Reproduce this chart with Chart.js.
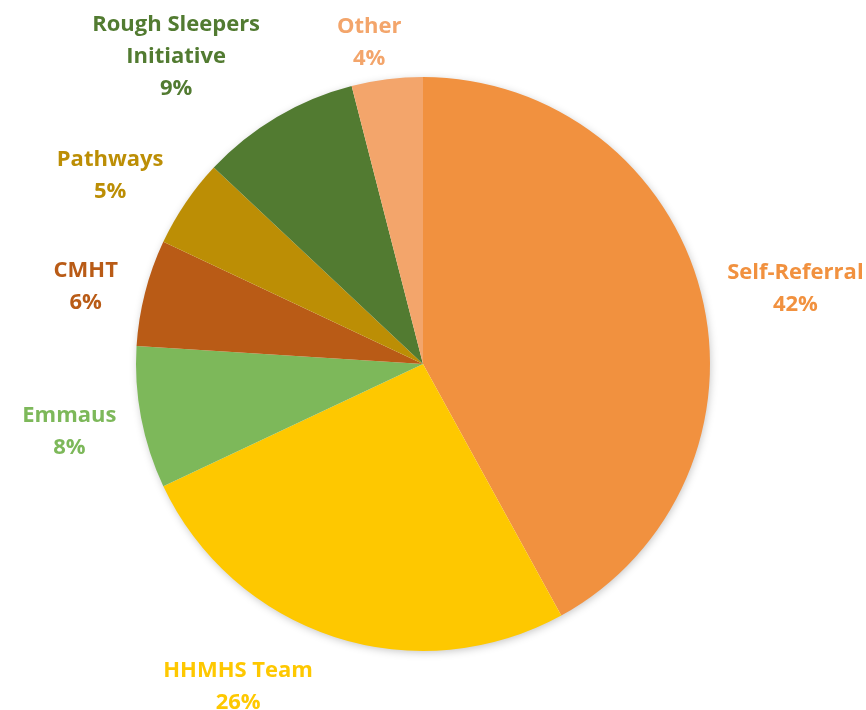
<!DOCTYPE html>
<html lang="en">
<head>
    <meta charset="UTF-8">
    <title>Referral Sources</title>
    <script src="https://cdn.jsdelivr.net/npm/chart.js"></script>
    <style>
        html, body {
            margin: 0;
            padding: 0;
            background: #ffffff;
        }
        #chart {
            display: block;
        }
    </style>
</head>
<body>
    <canvas id="chart" width="866" height="710"></canvas>

    <script>
        // Data
        const categories = ['Self-Referral', 'HHMHS Team', 'Emmaus', 'CMHT', 'Pathways', 'Rough Sleepers Initiative', 'Other'];
        const labelLines = [['Self-Referral'], ['HHMHS Team'], ['Emmaus'], ['CMHT'], ['Pathways'], ['Rough Sleepers', 'Initiative'], ['Other']];
        const shares = [42, 26, 8, 6, 5, 9, 4];

        const sliceColors = ['#F1913F', '#FEC800', '#7DB85A', '#B95B16', '#BC8E05', '#527B31', '#F3A56B'];

        // label placement, relative to each slice: angle shift (deg) and distance past the rim (px)
        const labelShift = [2.9, 11.8, 0, -1.5, -3.2, -8.2, -2.3];
        const labelGap = [93, 85, 73, 59, 78, 107, 39];

        const rimShadow = {
            id: 'rimShadow',
            beforeDatasetsDraw(chart) {
                const arc = chart.getDatasetMeta(0).data[0];
                if (!arc) return;
                const ctx = chart.ctx;
                ctx.save();
                ctx.shadowColor = 'rgba(0,0,0,0.25)';
                ctx.shadowBlur = 8;
                ctx.shadowOffsetX = 1;
                ctx.shadowOffsetY = 2;
                ctx.fillStyle = '#ffffff';
                ctx.beginPath();
                ctx.arc(arc.x, arc.y, arc.outerRadius - 1, 0, Math.PI * 2);
                ctx.fill();
                ctx.restore();
            }
        };

        const outsideLabels = {
            id: 'outsideLabels',
            afterDatasetsDraw(chart) {
                const ctx = chart.ctx;
                const meta = chart.getDatasetMeta(0);
                const lineH = 32;
                ctx.save();
                ctx.font = 'bold 22px "Open Sans", Lato, sans-serif';
                ctx.textAlign = 'center';
                ctx.textBaseline = 'middle';
                meta.data.forEach((arc, i) => {
                    const mid = (arc.startAngle + arc.endAngle) / 2 + labelShift[i] * Math.PI / 180;
                    const r = arc.outerRadius + labelGap[i];
                    const cx = arc.x + Math.cos(mid) * r;
                    const cy = arc.y + Math.sin(mid) * r;
                    const lines = labelLines[i].concat([shares[i] + '%']);
                    const top = cy - (lines.length - 1) * lineH / 2;
                    ctx.fillStyle = sliceColors[i];
                    lines.forEach((t, j) => ctx.fillText(t, cx, top + j * lineH));
                });
                ctx.restore();
            }
        };

        new Chart(document.getElementById('chart'), {
            type: 'pie',
            data: {
                labels: categories,
                datasets: [{
                    data: shares,
                    backgroundColor: sliceColors,
                    borderWidth: 0
                }]
            },
            options: {
                responsive: false,
                animation: false,
                layout: {
                    padding: { left: 136, right: 156, top: 77, bottom: 59 }
                },
                plugins: {
                    legend: { display: false },
                    tooltip: { enabled: false }
                }
            },
            plugins: [rimShadow, outsideLabels]
        });
    </script>
</body>
</html>
